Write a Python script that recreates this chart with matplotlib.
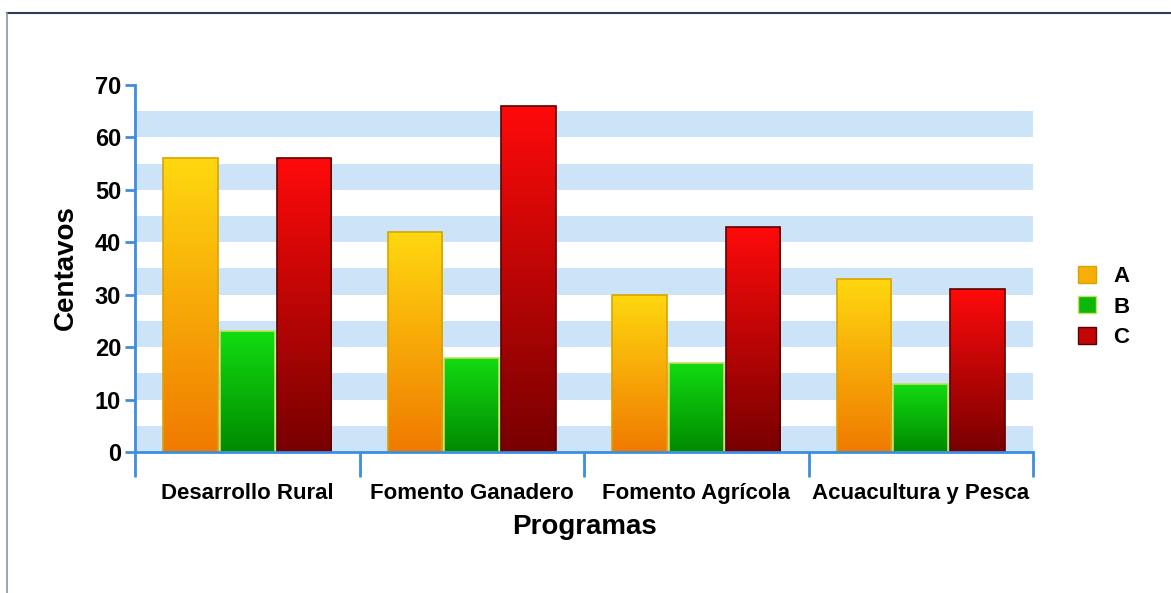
import matplotlib
matplotlib.use("Agg")
import matplotlib.pyplot as plt
import numpy as np
from matplotlib.colors import LinearSegmentedColormap
from matplotlib.patches import Patch
from matplotlib.lines import Line2D

categories = ["Desarrollo Rural", "Fomento Ganadero", "Fomento Agrícola", "Acuacultura y Pesca"]
series_names = ["A", "B", "C"]
values_A = [56, 42, 30, 33]
values_B = [23, 18, 17, 13]
values_C = [56, 66, 43, 31]
y_ticks = [0, 10, 20, 30, 40, 50, 60, 70]

plt.rcParams['font.family'] = ['Liberation Sans', 'DejaVu Sans']

# (top color, bottom color, edge color)
styles = {
    "A": ("#ffd810", "#f07a00", "#d9a400"),
    "B": ("#12dc12", "#008a00", "#c8e060"),
    "C": ("#ff0a0a", "#780000", "#5a0000"),
}

fig = plt.figure(figsize=(11.71, 5.93), dpi=100)
ax = fig.add_axes([135/1171, 1-452/593, (1033-135)/1171, (452-85)/593])

axis_col = "#3d8ede"
ax.set_xlim(-0.5, len(categories) - 0.5)
ax.set_ylim(0, 70)

# background bands
for lo in range(0, 70, 10):
    ax.axhspan(lo, lo + 5, color="#cde3f7", zorder=0, lw=0)

x = np.arange(len(categories))
width = 0.243
offsets = [-0.253, 0, 0.253]
all_vals = [values_A, values_B, values_C]

for name, vals, off in zip(series_names, all_vals, offsets):
    top, bot, edge = styles[name]
    cmap = LinearSegmentedColormap.from_list(name, [bot, top])
    bars = ax.bar(x + off, vals, width, facecolor="none", edgecolor=edge, lw=1.2, zorder=3)
    for b in bars:
        x0, w, h = b.get_x(), b.get_width(), b.get_height()
        grad = np.linspace(0, 1, 256).reshape(-1, 1)
        im = ax.imshow(grad, cmap=cmap, origin="lower", aspect="auto",
                       extent=(x0, x0 + w, 0, h), zorder=2)
        im.set_clip_path(b)
ax.set_xlim(-0.5, len(categories) - 0.5)
ax.set_ylim(0, 70)

for s in ["top", "right"]:
    ax.spines[s].set_visible(False)
for s in ["left", "bottom"]:
    ax.spines[s].set_color(axis_col)
    ax.spines[s].set_linewidth(2)
    ax.spines[s].set_zorder(5)

ax.set_yticks(y_ticks)
ax.set_yticklabels([str(v) for v in y_ticks], fontsize=17, fontweight="bold")
ax.tick_params(axis="y", length=7, width=2, color=axis_col, pad=3)

ax.set_xticks(np.arange(-0.5, len(categories), 1.0))
ax.set_xticklabels([])
ax.tick_params(axis="x", length=18, width=2, color=axis_col)
for i, c in enumerate(categories):
    ax.text(i, -0.085, c, transform=ax.get_xaxis_transform(), ha="center", va="top",
            fontsize=16, fontweight="bold")

fig.text(66/1171, 1-268/593, "Centavos", ha="center", va="center", rotation=90,
         fontsize=20, fontweight="bold")
fig.text(585/1171, 1-527/593, "Programas", ha="center", va="center", fontsize=20, fontweight="bold")

handles = [Patch(facecolor=LinearSegmentedColormap.from_list(n, [styles[n][1], styles[n][0]])(0.55),
                 edgecolor=styles[n][2], label=n) for n in series_names]
leg = fig.legend(handles=handles, loc="center left", bbox_to_anchor=(1058/1171, 1-307/593),
                 frameon=False, fontsize=16, handlelength=0.8, handleheight=0.8,
                 labelspacing=0.4, handletextpad=0.8)
for t in leg.get_texts():
    t.set_fontweight("bold")

# outer frame
fig.add_artist(Line2D([7/1171, 1], [1-13/593, 1-13/593], transform=fig.transFigure, color="#2b3d4f", lw=1.5))
fig.add_artist(Line2D([7/1171, 7/1171], [0, 1-13/593], transform=fig.transFigure, color="#8a96a2", lw=1.2))

fig.savefig("out.png", dpi=100)
